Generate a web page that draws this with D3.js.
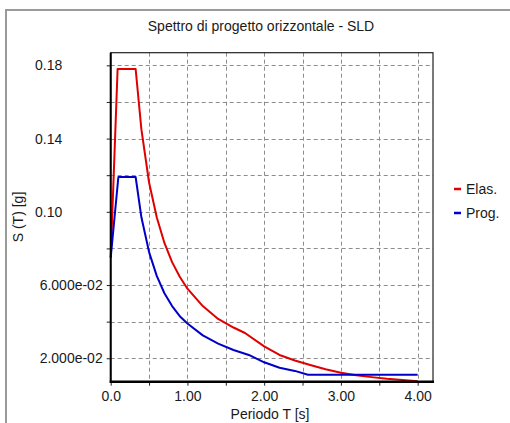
<!DOCTYPE html>
<html><head><meta charset="utf-8">
<script src="https://cdn.jsdelivr.net/npm/d3@7"></script>
<style>
html,body{margin:0;padding:0;background:#fff;}
svg{display:block;font-family:"Liberation Sans",Arial,sans-serif;}
</style></head>
<body>
<svg id="chart" width="510" height="423"></svg>
<script>
const titleText = "Spettro di progetto orizzontale - SLD";
const xLabel = "Periodo T [s]";
const yLabel = "S (T) [g]";
const seriesNames = ["Elas.", "Prog."];
const seriesColors = ["#e00000", "#0000c8"];

const elasT = [0, 0.09, 0.325, 0.4, 0.5, 0.6, 0.7, 0.8, 0.9, 1.0, 1.2, 1.4, 1.6, 1.75, 2.0, 2.2, 2.4, 2.6, 2.8, 3.0, 3.2, 3.4, 3.6, 3.8, 4.0];
const elasS = [0.075, 0.178, 0.178, 0.145, 0.116, 0.097, 0.083, 0.0725, 0.0645, 0.058, 0.0485, 0.0415, 0.0368, 0.0338, 0.0265, 0.0218, 0.0188, 0.0163, 0.0140, 0.0121, 0.0107, 0.0097, 0.0088, 0.0081, 0.0075];
const progT = [0, 0.1, 0.325, 0.4, 0.5, 0.6, 0.7, 0.8, 0.9, 1.0, 1.2, 1.4, 1.6, 1.8, 2.0, 2.2, 2.4, 2.57, 2.8, 3.0, 3.2, 3.4, 3.6, 3.8, 4.0];
const progS = [0.075, 0.119, 0.119, 0.097, 0.078, 0.065, 0.0555, 0.0485, 0.043, 0.039, 0.0325, 0.028, 0.0245, 0.0218, 0.0178, 0.0148, 0.0131, 0.011, 0.011, 0.011, 0.011, 0.011, 0.011, 0.011, 0.011];

const xTicks = [0, 0.5, 1, 1.5, 2, 2.5, 3, 3.5, 4];
const xTickLabels = ["0.0", "", "1.00", "", "2.00", "", "3.00", "", "4.00"];
const yTicks = [0.02, 0.04, 0.06, 0.08, 0.10, 0.12, 0.14, 0.16, 0.18];
const yTickLabels = ["2.000e-02", "", "6.000e-02", "", "0.10", "", "0.14", "", "0.18"];

const FS = 14;
const svg = d3.select("#chart");
const L = 110.7, R = 433, T = 52.7, B = 381.7;
const x = d3.scaleLinear().domain([0, 4.2]).range([L, R]);
const y = d3.scaleLinear().domain([0.0072, 0.1869]).range([B, T]);

// outer frame
svg.append("path").attr("d", "M6,430 L6,10 L520,10")
  .attr("fill", "none").attr("stroke", "#9a9a9a").attr("stroke-width", 2);

// title
svg.append("text").attr("x", 261).attr("y", 31).attr("text-anchor", "middle")
  .attr("font-size", FS).attr("fill", "#1a1a1a").text(titleText);

// grid
const grid = svg.append("g").attr("stroke", "#8c8c8c").attr("stroke-width", 1).attr("stroke-dasharray", "4,3");
xTicks.filter(t => t > 0).forEach(t => {
  grid.append("line").attr("x1", Math.round(x(t)) + 0.5).attr("x2", Math.round(x(t)) + 0.5).attr("y1", T).attr("y2", B);
});
yTicks.forEach(t => {
  grid.append("line").attr("x1", L).attr("x2", R).attr("y1", Math.round(y(t)) + 0.5).attr("y2", Math.round(y(t)) + 0.5);
});

// axes via d3
const xAxis = d3.axisBottom(x).tickValues(xTicks).tickSize(4).tickSizeOuter(0)
  .tickFormat((d, i) => xTickLabels[i]);
const gx = svg.append("g").attr("transform", `translate(0,${B})`).call(xAxis);
gx.select(".domain").remove();
gx.selectAll(".tick line").attr("stroke", "#222");
gx.selectAll(".tick text").attr("font-size", FS).attr("fill", "#1a1a1a").attr("y", 9)
  .attr("font-family", "Liberation Sans, Arial, sans-serif");

const yAxis = d3.axisLeft(y).tickValues(yTicks).tickSize(4).tickSizeOuter(0)
  .tickFormat((d, i) => yTickLabels[i]);
const gy = svg.append("g").attr("transform", `translate(${L},0)`).call(yAxis);
gy.select(".domain").remove();
gy.selectAll(".tick line").attr("stroke", "#222");
gy.selectAll(".tick text").attr("font-size", FS).attr("fill", "#1a1a1a")
  .attr("font-family", "Liberation Sans, Arial, sans-serif")
  .each(function(d, i) {
    const s = yTickLabels[i];
    const t = d3.select(this);
    if (s.length > 5) t.attr("text-anchor", "end").attr("x", -8);
    else t.attr("text-anchor", "start").attr("x", 35 - L);
  });

// series
const line = d3.line().x(d => x(d[0])).y(d => y(d[1]));
const sets = [d3.zip(elasT, elasS), d3.zip(progT, progS)];
sets.forEach((data, i) => {
  svg.append("path").datum(data).attr("d", line).attr("fill", "none")
    .attr("stroke", seriesColors[i]).attr("stroke-width", 2).attr("stroke-linejoin", "round");
});

// plot frame
svg.append("rect").attr("x", L).attr("y", T).attr("width", R - L).attr("height", B - T)
  .attr("fill", "none").attr("stroke", "#222").attr("stroke-width", 1.2);
svg.append("line").attr("x1", L).attr("x2", L).attr("y1", T).attr("y2", B + 1).attr("stroke", "#000").attr("stroke-width", 2);
svg.append("line").attr("x1", L - 1).attr("x2", R + 1).attr("y1", B).attr("y2", B).attr("stroke", "#000").attr("stroke-width", 2.5);

// axis labels
svg.append("text").attr("x", 270).attr("y", 419).attr("text-anchor", "middle")
  .attr("font-size", FS).attr("fill", "#1a1a1a").text(xLabel);
svg.append("text").attr("transform", "translate(23,217) rotate(-90)").attr("text-anchor", "middle")
  .attr("font-size", FS).attr("fill", "#1a1a1a").text(yLabel);

// legend
const lg = svg.append("g");
seriesNames.forEach((n, i) => {
  const yy = 189 + i * 24;
  lg.append("line").attr("x1", 454).attr("x2", 461).attr("y1", yy).attr("y2", yy)
    .attr("stroke", seriesColors[i]).attr("stroke-width", 2.5);
  lg.append("text").attr("x", 466).attr("y", yy).attr("dy", "0.35em")
    .attr("font-size", FS).attr("fill", "#1a1a1a").text(n);
});
</script>
</body></html>
